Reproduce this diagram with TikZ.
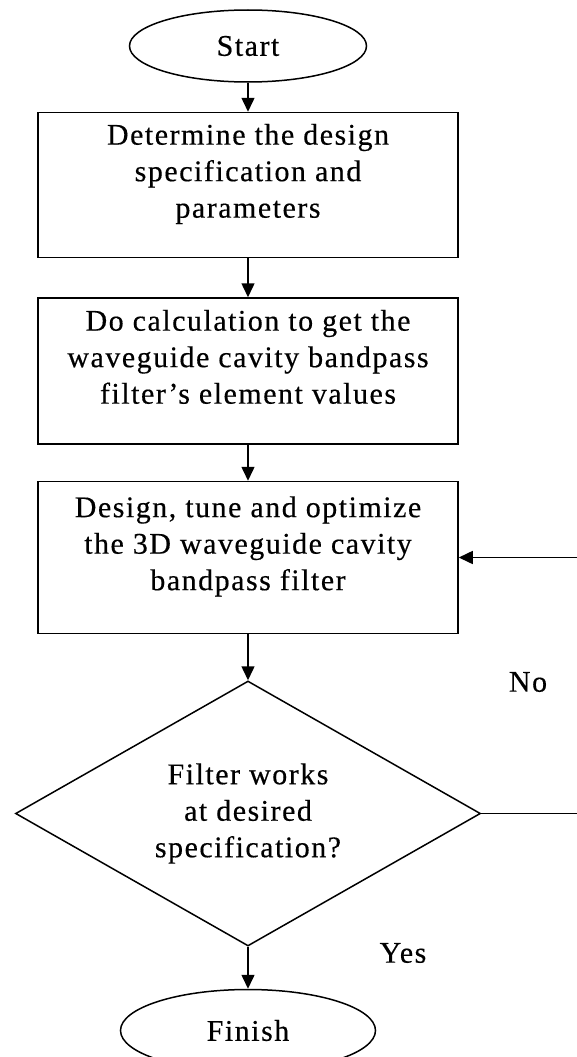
\documentclass[tikz,border=0pt]{standalone}
\usepackage{fontspec}
\setmainfont{Liberation Serif}[LetterSpace=5,FakeBold=0.4]
\usetikzlibrary{positioning,shapes.geometric,arrows.meta}

\begin{document}
\begin{tikzpicture}[x=1pt,y=1pt,
  every node/.style={font=\fontsize{30}{36.5}\selectfont},
  terminal/.style={draw,ellipse,line width=1.5pt,inner sep=0pt},
  process/.style={draw,rectangle,line width=1.5pt,minimum width=420pt,inner sep=0pt,align=center},
  decision/.style={draw,diamond,shape aspect=1.75,line width=1.5pt,minimum width=465pt,minimum height=265pt,inner sep=0pt,align=center},
  flow/.style={line width=1.5pt,-{Triangle[length=14pt,width=13pt]}}]
  \clip (0,0) rectangle (577,-1057);
  \node[terminal,minimum width=237pt,minimum height=72pt] (start) at (248,-46) {Start};
  \node[process,minimum height=145pt,below=29pt of start] (spec) {Determine the design\\specification and\\parameters\\[-8pt]\mbox{}};
  \node[process,minimum height=146pt,below=39pt of spec] (calc) {Do calculation to get the\\waveguide cavity bandpass\\filter’s element values\\[-8pt]\mbox{}};
  \node[process,minimum height=152pt,below=36pt of calc] (design) {Design, tune and optimize\\the 3D waveguide cavity\\bandpass filter\\[-8pt]\mbox{}};
  \node[decision,below=46pt of design] (check) {Filter works\\at desired\\specification?};
  \node[terminal,minimum width=255pt,minimum height=82pt,below=42pt of check] (finish) {Finish};
  \node (no) at (528,-682) {No};
  \node (yes) at (403,-953) {Yes};
  \coordinate (back) at (600,0);
  \draw[flow] (start) -- (spec);
  \draw[flow] (spec) -- (calc);
  \draw[flow] (calc) -- (design);
  \draw[flow] (design) -- (check);
  \draw[flow] (check) -- (finish);
  \draw[flow] (check.east) -- (check.east -| back) |- (design.east);
\end{tikzpicture}
\end{document}
